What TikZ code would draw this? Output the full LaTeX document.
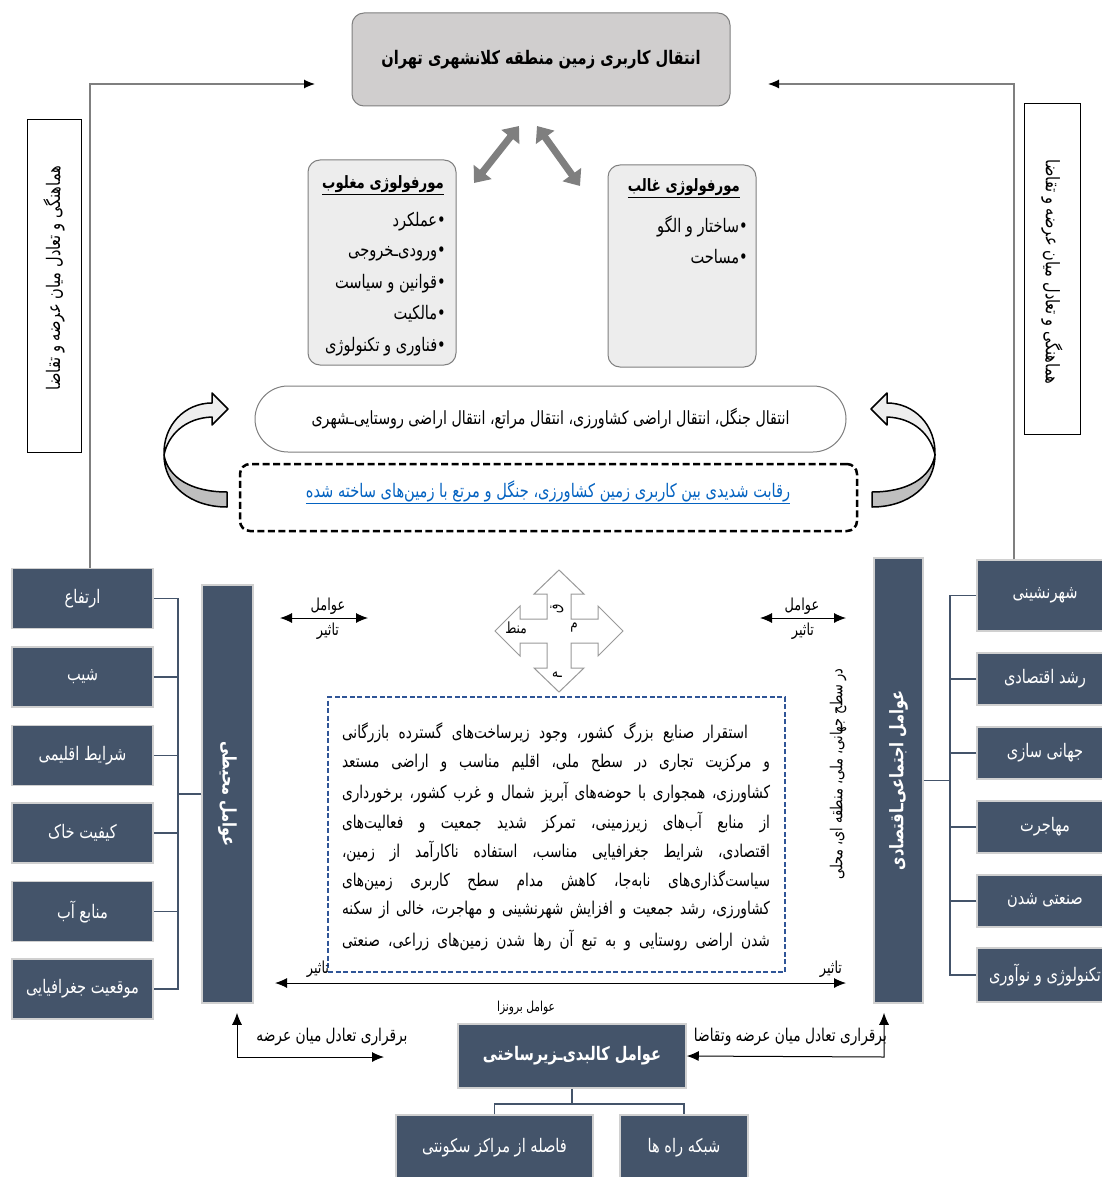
\documentclass[tikz,border=0pt]{standalone}
\usepackage{fontspec}
\usetikzlibrary{arrows.meta,calc}
\TeXXeTstate=1
\newfontfamily\arabicfont[Script=Arabic, FakeStretch=0.78]{DejaVu Sans}
\newcommand\rl[1]{\beginR#1\endR}
\newcommand\fsz[1]{\fontsize{#1}{#1}\selectfont}
\definecolor{slate}{HTML}{44546A}
\definecolor{edgegray}{HTML}{D0D0D0}
\definecolor{titlefill}{HTML}{D0CECE}
\definecolor{panelfill}{HTML}{EDEDED}
\definecolor{midgray}{HTML}{7F7F7F}
\definecolor{linkblue}{HTML}{0563C1}
\definecolor{dashblue}{HTML}{2F5597}
\definecolor{curvedark}{HTML}{BFBFBF}
\definecolor{curvelight}{HTML}{EEEEEE}
\tikzset{
  fa/.style={font=\arabicfont\fsz{#1}, inner sep=0pt},
  fa/.default=18.7,
  fab/.style={font=\arabicfont\bfseries\fsz{#1}, inner sep=0pt},
  fab/.default=18.7,
  slatebox/.style={fill=slate, draw=edgegray, line width=1.5pt, text=white,
    inner sep=0pt, font=\arabicfont\fsz{18.7}},
  slatecol/.style={fill=slate, draw=edgegray, line width=1.5pt, inner sep=0pt},
  tree/.style={draw=slate, line width=1.8pt},
  sidebox/.style={draw=black, line width=1pt, fill=white, inner sep=0pt},
  panel/.style={draw=midgray, line width=1pt, fill=panelfill, rounded corners=12pt, inner sep=0pt},
  feed/.style={draw=midgray, line width=1.2pt, -{Latex[length=11pt,width=9pt,color=black]}},
  blk/.style={draw=black, line width=1pt, {Latex[length=12pt,width=10pt]}-{Latex[length=12pt,width=10pt]}},
  graydbl/.style={draw=midgray, line width=7pt,
    arrows={Triangle[length=14pt,width=22pt]-Triangle[length=14pt,width=22pt]}},
  ribbon/.style={draw=black, line width=1.5pt, line join=round},
  parl/.style={font=\arabicfont\fsz{17.6}, inner sep=0pt}
}
\begin{document}
\begin{tikzpicture}[x=1pt,y=-1pt]
\useasboundingbox (0,0) rectangle (1102,1177);
\clip (0,0) rectangle (1102,1177);
\fill[white] (0,0) rectangle (1102,1177);

% ---- title and morphology panels
\node[draw=midgray, line width=1pt, fill=titlefill, rounded corners=12pt,
  minimum width=378, minimum height=93, fab=18.7] (title) at (541,59.5)
  {\rl{انتقال کاربری زمین منطقه کلانشهری تهران}};

\node[panel, minimum width=148, minimum height=205] (weak) at (382,262.5) {};
\node[panel, minimum width=148, minimum height=202] (dom) at (682,266) {};

\node[fab=17, anchor=east] (weakh) at (444,185) {\underline{\rl{مورفولوژی مغلوب}}};
\node[fa, anchor=east] (w1) at (446,222) {\rl{•عملکرد}};
\node[fa, anchor=east] (w2) at (446,254) {\rl{•ورودی^^^^200cـخروجی}};
\node[fa, anchor=east] (w3) at (446,284) {\rl{•قوانین و سیاست}};
\node[fa, anchor=east] (w4) at (446,314) {\rl{•مالکیت}};
\node[fa, anchor=east] (w5) at (446,347) {\rl{•فناوری و تکنولوژی}};

\node[fab=17, anchor=east] (domh) at (740,188) {\underline{\rl{مورفولوژی غالب}}};
\node[fa, anchor=east] (d1) at (748,226) {\rl{•ساختار و الگو}};
\node[fa, anchor=east] (d2) at (748,257) {\rl{•مساحت}};

\coordinate (ga1) at (519,126);
\coordinate (ga2) at (474,183);
\coordinate (gb1) at (537,126);
\coordinate (gb2) at (580,186);
\draw[graydbl] (ga1) -- (ga2);
\draw[graydbl] (gb1) -- (gb2);

% ---- land-use transfer band and competition box
\node[draw=midgray, line width=1pt, fill=white, rounded corners=33pt,
  minimum width=591, minimum height=66, fa=18.2] (pill) at (550.5,419)
  {\rl{انتقال جنگل، انتقال اراضی کشاورزی، انتقال مراتع، انتقال اراضی روستایی^^^^200cـشهری}};

\node[draw=black, line width=2.5pt, dash pattern=on 7pt off 3.5pt, rounded corners=10pt,
  minimum width=617, minimum height=67] (rival) at (548.5,497.5) {};
\node[fa=18.7, text=linkblue] (rivalt) at (548,492)
  {\underline{\rl{رقابت شدیدی بین کاربری زمین کشاورزی، جنگل و مرتع با زمین^^^^200cهای ساخته شده}}};

% ---- curved ribbon arrows on both sides
\filldraw[ribbon, fill=curvedark] (227,507) .. controls (190,507) and (164,485) .. (164,455)
  .. controls (168,478) and (192,492) .. (227,492) -- cycle;
\filldraw[ribbon, fill=curvelight] (212,403) -- (212,393) -- (228,409) -- (212,425) -- (212,417)
  .. controls (185,418) and (168,435) .. (164,455)
  .. controls (163,425) and (185,403) .. (212,403) -- cycle;
\begin{scope}[shift={(1099,0)}, xscale=-1]
\filldraw[ribbon, fill=curvedark] (227,507) .. controls (190,507) and (164,485) .. (164,455)
  .. controls (168,478) and (192,492) .. (227,492) -- cycle;
\filldraw[ribbon, fill=curvelight] (212,403) -- (212,393) -- (228,409) -- (212,425) -- (212,417)
  .. controls (185,418) and (168,435) .. (164,455)
  .. controls (163,425) and (185,403) .. (212,403) -- cycle;
\end{scope}

% ---- supply/demand side boxes
\node[sidebox, minimum width=54, minimum height=332] (lbal) at (54,286) {};
\node[fa=18.7, rotate=90] (lbalt) at (54,278) {\rl{هماهنگی و تعادل میان عرضه و تقاضا}};
\node[sidebox, minimum width=56, minimum height=330] (rbal) at (1052,269) {};
\node[fa=18.7, rotate=-90] (rbalt) at (1052,272) {\rl{هماهنگی و تعادل میان عرضه و تقاضا}};

% ---- environmental factors (left)
\node[slatebox, minimum width=141, minimum height=60] (e1) at (82.5,598.5) {\rl{ارتفاع}};
\node[slatebox, minimum width=141, minimum height=60] (e2) at (82.5,677) {\rl{شیب}};
\node[slatebox, minimum width=141, minimum height=60] (e3) at (82.5,755.5) {\rl{شرایط اقلیمی}};
\node[slatebox, minimum width=141, minimum height=60] (e4) at (82.5,833) {\rl{کیفیت خاک}};
\node[slatebox, minimum width=141, minimum height=60] (e5) at (82.5,911.5) {\rl{منابع آب}};
\node[slatebox, minimum width=141, minimum height=60] (e6) at (82.5,989) {\rl{موقعیت جغرافیایی}};
\node[slatecol, minimum width=51, minimum height=418] (env) at (227.5,794) {};
\node[fab=18.7, text=white, rotate=-90] (envt) at (227.5,794) {\rl{عوامل محیطی}};

\coordinate (lbus) at (178,0);
\draw[tree] (e1.east) -- (e1.east -| lbus) -- (e6.east -| lbus) -- (e6.east);
\foreach \k in {e2,e3,e4,e5} \draw[tree] (\k.east) -- (\k.east -| lbus);
\draw[tree] (env.west) -- (env.west -| lbus);

% ---- socio-economic factors (right)
\node[slatebox, minimum width=136, minimum height=71] (s1) at (1045,595.5) {\rl{شهرنشینی}};
\node[slatebox, minimum width=136, minimum height=52] (s2) at (1045,679) {\rl{رشد اقتصادی}};
\node[slatebox, minimum width=136, minimum height=52] (s3) at (1045,753) {\rl{جهانی سازی}};
\node[slatebox, minimum width=136, minimum height=52] (s4) at (1045,827) {\rl{مهاجرت}};
\node[slatebox, minimum width=136, minimum height=52] (s5) at (1045,901) {\rl{صنعتی شدن}};
\node[slatebox, minimum width=136, minimum height=54] (s6) at (1045,975) {\rl{تکنولوژی و نوآوری}};
\node[slatecol, minimum width=49, minimum height=445] (soc) at (898.5,780.5) {};
\node[fab=18.7, text=white, rotate=90] (soct) at (898.5,780.5) {\rl{عوامل اجتماعی^^^^200cـاقتصادی}};

\coordinate (rbus) at (950,0);
\draw[tree] (s1.west) -- (s1.west -| rbus) -- (s6.west -| rbus) -- (s6.west);
\foreach \k in {s2,s3,s4,s5} \draw[tree] (\k.west) -- (\k.west -| rbus);
\draw[tree] (soc.east) -- (soc.east -| rbus);

% ---- feedback lines up to the title
\coordinate (lx) at (90,0);
\coordinate (rx) at (1014,0);
\coordinate (ltip) at (315,84);
\coordinate (rtip) at (768,84);
\draw[feed] (e1.north -| lx) |- (ltip);
\draw[feed] (s1.north -| rx) |- (rtip);

% ---- influence arrows and the four-way arrow
\coordinate (ia1) at (280,618);
\coordinate (ia2) at (368,618);
\coordinate (ib1) at (760,618);
\coordinate (ib2) at (846,618);
\draw[blk] (ia1) -- (ia2);
\draw[blk] (ib1) -- (ib2);
\node[fa=16.5] (ia1t) at (328,606) {\rl{عوامل}};
\node[fa=16.5] (ia2t) at (328,631) {\rl{تاثیر}};
\node[fa=16.5] (ib1t) at (802,606) {\rl{عوامل}};
\node[fa=16.5] (ib2t) at (803,631) {\rl{تاثیر}};

\begin{scope}[shift={(559,631)}]
\draw[draw=gray!80, line width=1pt, fill=white]
  (0,-61) -- (25,-37) -- (12,-37) -- (12,-12) -- (39,-12) -- (39,-25) -- (64,0)
  -- (39,25) -- (39,12) -- (12,12) -- (12,37) -- (25,37) -- (0,61)
  -- (-25,37) -- (-12,37) -- (-12,12) -- (-39,12) -- (-39,25) -- (-64,0)
  -- (-39,-25) -- (-39,-12) -- (-12,-12) -- (-12,-37) -- (-25,-37) -- cycle;
\node[fa=15.4] (xl) at (-43,-3) {\rl{منط}};
\node[fa=15.4] (xr) at (15,-3) {\rl{م}};
\node[fa=15.4, rotate=90] (xt) at (-2,-22) {\rl{ق}};
\node[fa=15.4] (xb) at (-2,44) {\rl{ـه}};
\end{scope}

% ---- central text block
\node[draw=dashblue, line width=1.5pt, dash pattern=on 5pt off 2.5pt,
  minimum width=457, minimum height=275] (core) at (556.5,834.5) {};
\node[parl] (p1) at (556,733) {\hbox to 428pt{\rl{\hskip 22pt استقرار صنایع بزرگ کشور، وجود زیرساخت^^^^200cهای گسترده بازرگانی}}};
\node[parl] (p2) at (556,763) {\hbox to 428pt{\rl{و مرکزیت تجاری در سطح ملی، اقلیم مناسب و اراضی مستعد}}};
\node[parl] (p3) at (556,792) {\hbox to 428pt{\rl{کشاورزی، همجواری با حوضه^^^^200cهای آبریز شمال و غرب کشور، برخورداری}}};
\node[parl] (p4) at (556,822) {\hbox to 428pt{\rl{از منابع آب^^^^200cهای زیرزمینی، تمرکز شدید جمعیت و فعالیت^^^^200cهای}}};
\node[parl] (p5) at (556,851) {\hbox to 428pt{\rl{اقتصادی، شرایط جغرافیایی مناسب، استفاده ناکارآمد از زمین،}}};
\node[parl] (p6) at (556,881) {\hbox to 428pt{\rl{سیاست^^^^200cگذاری^^^^200cهای نابه^^^^200cجا، کاهش مدام سطح کاربری زمین^^^^200cهای}}};
\node[parl] (p7) at (556,910) {\hbox to 428pt{\rl{کشاورزی، رشد جمعیت و افزایش شهرنشینی و مهاجرت، خالی از سکنه}}};
\node[parl] (p8) at (556,940) {\hbox to 428pt{\rl{شدن اراضی روستایی و به تبع آن رها شدن زمین^^^^200cهای زراعی، صنعتی}}};

\node[fa=16.5, rotate=90] (scale) at (838,774) {\rl{در سطح جهانی، ملی، منطقه ای، محلی}};

\coordinate (ha1) at (275,983);
\coordinate (ha2) at (846,983);
\draw[blk] (ha1) -- (ha2);
\node[fa=16.5] (hl) at (318,969) {\rl{تاثیر}};
\node[fa=16.5] (hr) at (831,969) {\rl{تاثیر}};

% ---- physical / infrastructure factors (bottom)
\node[fa=13.7] (exo) at (526,1008) {\rl{عوامل برونزا}};
\node[slatebox, minimum width=228, minimum height=64, font=\arabicfont\bfseries\fsz{18.7}] (phys) at (572,1056)
  {\rl{عوامل کالبدی^^^^200cـزیرساختی}};
\node[slatebox, minimum width=197, minimum height=66] (b1) at (494.5,1148) {\rl{فاصله از مراکز سکونتی}};
\node[slatebox, minimum width=128, minimum height=66] (b2) at (684,1148) {\rl{شبکه راه ها}};
\draw[tree] (phys.south) -- ++(0,15) coordinate (pj);
\draw[tree] (b1.north) -- (b1.north |- pj) -- (b2.north |- pj) -- (b2.north);

\coordinate (lc) at (237,1057);
\coordinate (lend) at (384,1057);
\draw[blk] (env.south -| lc) ++(0,9) -- (lc) -- (lend);
\node[fa=17.6] (lct) at (332,1037) {\rl{برقراری تعادل میان عرضه}};
\coordinate (rc) at (884,1057);
\draw[blk] (soc.south -| rc) ++(0,9) -- (rc) -- (phys.east);
\node[fa=17.6, anchor=east] (rct) at (887,1037) {\rl{برقراری تعادل میان عرضه وتقاضا}};
\end{tikzpicture}
\end{document}
